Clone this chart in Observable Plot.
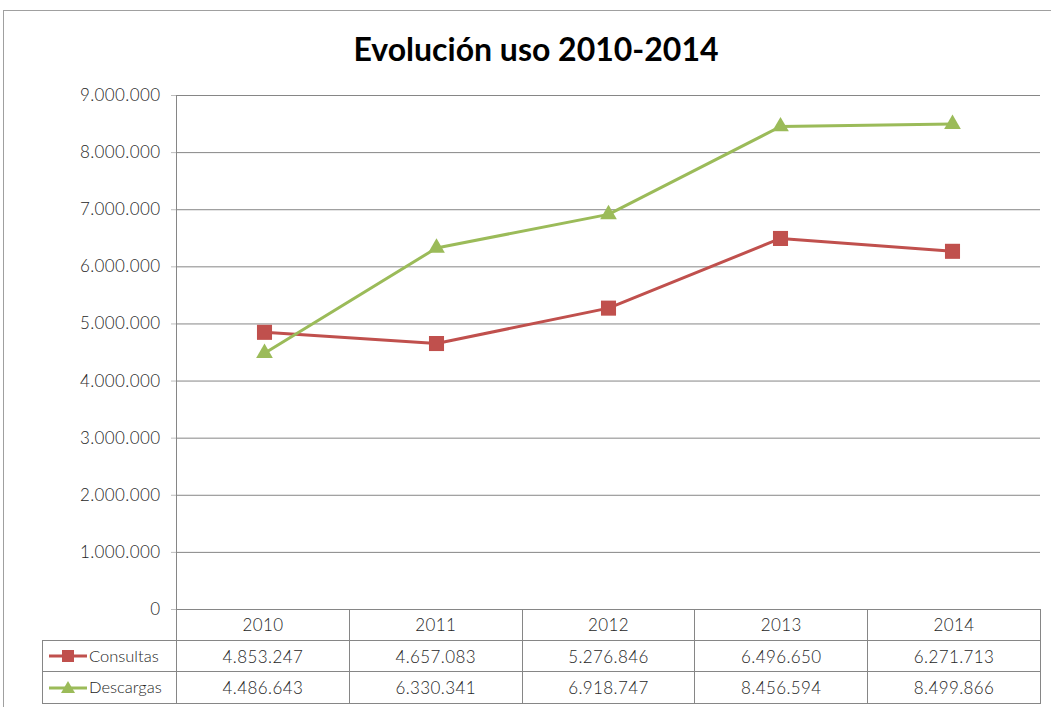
<!DOCTYPE html>
<html><head><meta charset="utf-8">
<script src="https://cdn.jsdelivr.net/npm/d3@7"></script>
<script src="https://cdn.jsdelivr.net/npm/@observablehq/plot@0.6"></script>
<style>
html,body{margin:0;padding:0;background:#fff;overflow:hidden;}
body{width:1051px;height:707px;position:relative;font-family:Lato,"Open Sans",sans-serif;}
#frame{position:absolute;left:3px;top:10px;width:1100px;height:800px;border:1px solid #a0a0a0;box-sizing:border-box;}
#title{position:absolute;left:0;top:0;width:1072px;height:80px;text-align:center;font:bold 32px Lato,sans-serif;line-height:32px;padding-top:33px;box-sizing:border-box;color:#000;}
#chart{position:absolute;left:0;top:80px;}
#table{position:absolute;left:42px;top:609px;display:grid;grid-template-columns:135px repeat(5,172.8px);}
.c{height:31.7px;box-sizing:border-box;border-right:1px solid #868686;border-bottom:1px solid #868686;font-size:17px;font-weight:300;letter-spacing:0.4px;color:#262626;text-align:center;line-height:31px;white-space:nowrap;}
.leg{border-left:1px solid #868686;text-align:left;display:flex;align-items:center;padding-left:6px;letter-spacing:0px;font-size:16.5px;}
.leg svg{margin-right:2px;}
</style>
</head><body>
<div id="frame"></div>
<div id="title">Evolución uso 2010-2014</div>
<div id="chart"></div>
<div id="table"></div>
<script>
const years = ["2010","2011","2012","2013","2014"];
const seriesNames = ["Consultas","Descargas"];
const consultas = [4853247, 4657083, 5276846, 6496650, 6271713];
const descargas = [4486643, 6330341, 6918747, 8456594, 8499866];
const colors = ["#C0504D", "#9BBB59"];
const yTicks = [0, 1000000, 2000000, 3000000, 4000000, 5000000, 6000000, 7000000, 8000000, 9000000];

const es = d3.formatLocale({decimal: ",", thousands: ".", grouping: [3], currency: ["", "€"]});
const fmt = es.format(",d");

const data = years.flatMap((yr, i) => [
  {year: yr, series: seriesNames[0], value: consultas[i]},
  {year: yr, series: seriesNames[1], value: descargas[i]}
]);
const dC = data.filter(d => d.series === seriesNames[0]);
const dD = data.filter(d => d.series === seriesNames[1]);

const chart = Plot.plot({
  width: 1051, height: 530,
  marginTop: 15, marginBottom: 1, marginLeft: 176, marginRight: 11,
  style: {fontFamily: "Lato, sans-serif", fontSize: "17px", fontWeight: 300, letterSpacing: "0.4px", color: "#262626", background: "transparent", overflow: "visible"},
  x: {type: "point", domain: years, padding: 0.5, axis: null},
  y: {domain: [0, 9000000], axis: null, label: null},
  marks: [
    Plot.gridY(yTicks, {stroke: "#868686", strokeOpacity: 1}),
    Plot.axisY(yTicks, {tickFormat: fmt, tickSize: 5, tickPadding: 11, fontSize: 17, label: null, color: "#262626", strokeOpacity: 0.3}),
    Plot.frame({anchor: "left", stroke: "#868686"}),
    Plot.line(dC, {x: "year", y: "value", stroke: colors[0], strokeWidth: 3, strokeLinejoin: "round"}),
    Plot.dot(dC, {x: "year", y: "value", symbol: "square", r: 8.5, fill: colors[0], stroke: null}),
    Plot.line(dD, {x: "year", y: "value", stroke: colors[1], strokeWidth: 3, strokeLinejoin: "round"}),
    Plot.dot(dD, {x: "year", y: "value", symbol: "triangle", r: 6.2, fill: colors[1], stroke: null})
  ]
});
document.getElementById("chart").appendChild(chart);

// data table (legend-like) below the chart
const table = document.getElementById("table");
function cell(text, cls) {
  const d = document.createElement("div");
  d.className = "c" + (cls ? " " + cls : "");
  if (text != null) d.textContent = text;
  table.appendChild(d);
  return d;
}
cell(null);
years.forEach(y => cell(y));
const keys = [
  `<svg width="38" height="16"><line x1="0" x2="38" y1="8" y2="8" stroke="${colors[0]}" stroke-width="3"/><rect x="13" y="2" width="12" height="12" fill="${colors[0]}"/></svg>`,
  `<svg width="38" height="16"><line x1="0" x2="38" y1="8" y2="8" stroke="${colors[1]}" stroke-width="3"/><path d="M19,1 L26,13 L12,13 Z" fill="${colors[1]}"/></svg>`
];
[consultas, descargas].forEach((vals, s) => {
  const lg = cell(null, "leg");
  lg.innerHTML = keys[s] + "<span>" + seriesNames[s] + "</span>";
  vals.forEach(v => cell(fmt(v)));
});
</script>
</body></html>
